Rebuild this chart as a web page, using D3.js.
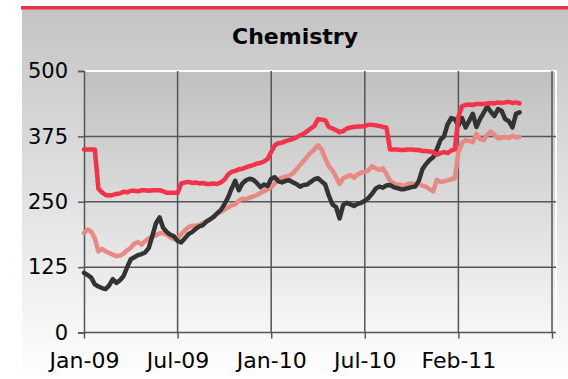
<!DOCTYPE html>
<html>
<head>
<meta charset="utf-8">
<script src="https://cdn.jsdelivr.net/npm/d3@7"></script>
<style>
  html, body { margin: 0; padding: 0; background: #ffffff; }
  svg { display: block; }
  text { font-family: "DejaVu Sans", Verdana, sans-serif; fill: #000; }
</style>
</head>
<body>
<svg id="chart" width="568" height="379"></svg>
<script>
// Weekly index values, one point per week starting with the first week of Jan 2009
const seriesRed = [
  350,350,350,350,275,268,263,262,263,265,266,269,268,271,271,270,272,272,271,272,
  272,272,270,267,267,267,267,285,287,288,286,287,285,286,284,284,285,284,287,292,
  302,307,309,312,313,316,318,320,323,324,327,332,345,358,362,363,366,368,370,373,
  377,380,385,390,395,408,407,406,393,390,387,383,385,390,392,393,394,394,395,397,
  397,396,395,393,392,350,350,350,349,349,350,350,349,349,347,347,346,345,340,343,
  345,343,348,350,412,433,435,436,435,437,437,437,438,439,438,440,439,440,441,439,
  440,438
];
const seriesPink = [
  190,197,193,180,155,160,155,152,149,146,147,151,157,162,170,173,168,175,180,183,
  186,190,190,187,182,178,180,188,195,201,204,204,205,209,213,217,221,227,231,235,
  239,243,245,252,256,255,258,260,263,267,270,274,278,285,293,296,298,300,304,312,
  320,328,336,344,350,358,350,333,318,310,298,284,295,298,301,296,302,306,307,310,
  318,314,311,314,303,290,285,283,282,280,284,285,283,284,281,279,274,270,292,288,
  289,291,293,295,345,362,368,366,364,380,370,368,378,384,378,371,372,374,372,376,
  373,374
];
const seriesDark = [
  114,110,105,92,88,85,83,90,102,95,100,108,125,140,144,148,150,153,162,185,
  209,220,200,192,187,184,175,172,180,188,192,198,203,205,212,216,221,228,234,245,
  258,275,290,272,285,291,294,292,286,278,283,280,294,297,289,287,290,291,287,284,
  279,282,283,288,293,295,289,283,262,245,240,218,244,248,245,242,246,248,252,257,
  265,275,279,277,281,282,278,276,274,274,276,278,279,290,312,322,330,335,350,368,
  375,398,410,408,396,410,392,405,418,393,408,420,432,422,414,427,424,408,404,392,
  418,421
];

const yTicks = [0, 125, 250, 375, 500];
const xTickWeeks = [0, 26, 52, 78, 104, 130];
const xTickLabels = ["Jan-09", "Jul-09", "Jan-10", "Jul-10", "Feb-11", ""];
const chartTitle = "Chemistry";

const svg = d3.select("#chart");
const W = 568, H = 379;

// Panel background with vertical grey-to-white gradient
const defs = svg.append("defs");
const gPanel = defs.append("linearGradient").attr("id", "panelGrad")
  .attr("x1", 0).attr("y1", 0).attr("x2", 0).attr("y2", 1);
gPanel.append("stop").attr("offset", "0%").attr("stop-color", "#c4c4c4");
gPanel.append("stop").attr("offset", "100%").attr("stop-color", "#ffffff");

const gPlot = defs.append("linearGradient").attr("id", "plotGrad")
  .attr("x1", 0).attr("y1", 0).attr("x2", 0).attr("y2", 1);
gPlot.append("stop").attr("offset", "0%").attr("stop-color", "#c0c0c0");
gPlot.append("stop").attr("offset", "100%").attr("stop-color", "#f7f7f7");

svg.append("rect").attr("x", 22).attr("y", 9).attr("width", W - 22).attr("height", H - 9)
  .attr("fill", "url(#panelGrad)");
svg.append("rect").attr("x", 21).attr("y", 6).attr("width", W - 21).attr("height", 3.5)
  .attr("fill", "#e8324b");

svg.append("text").attr("x", 295).attr("y", 44).attr("text-anchor", "middle")
  .style("font-size", "22px").style("font-weight", "bold").text(chartTitle);

const plotLeft = 84, plotLastTick = 552, plotTop = 71, plotBottom = 332.5;
const plotRight = 556;

const x = d3.scaleLinear().domain([0, 130]).range([plotLeft, plotLastTick]);
const y = d3.scaleLinear().domain([0, 500]).range([plotBottom, plotTop]);

// Plot area
svg.append("rect").attr("x", plotLeft).attr("y", plotTop).attr("width", plotRight - plotLeft)
  .attr("height", plotBottom - plotTop).attr("fill", "url(#plotGrad)");
svg.append("path")
  .attr("d", `M${plotLeft},${plotTop}H${plotRight}V${plotBottom}`)
  .attr("fill", "none").attr("stroke", "#ffffff").attr("stroke-width", 2);

// Gridlines
const grid = svg.append("g").attr("stroke", "#555555").attr("stroke-width", 1.5);
yTicks.filter(v => v > 0 && v < 500).forEach(v => {
  grid.append("line").attr("x1", plotLeft).attr("x2", plotRight).attr("y1", y(v)).attr("y2", y(v));
});
xTickWeeks.filter(w => w > 0).forEach(w => {
  grid.append("line").attr("x1", x(w)).attr("x2", x(w)).attr("y1", plotTop).attr("y2", plotBottom);
});

// Axes
const yAxis = d3.axisLeft(y).tickValues(yTicks).tickSize(6).tickPadding(10);
const gy = svg.append("g").attr("transform", `translate(${plotLeft},0)`).call(yAxis);
gy.select(".domain").attr("stroke", "#555555").attr("stroke-width", 1.5);
gy.selectAll(".tick line").attr("stroke", "#555555").attr("stroke-width", 1.5);
gy.selectAll(".tick text").style("font-size", "21px").attr("fill", "#000")
  .attr("font-family", "DejaVu Sans, Verdana, sans-serif");

const xAxis = d3.axisBottom(x).tickValues(xTickWeeks)
  .tickFormat((d, i) => xTickLabels[i]).tickSize(6).tickPadding(14);
const gx = svg.append("g").attr("transform", `translate(0,${plotBottom})`).call(xAxis);
gx.select(".domain").attr("d", `M${plotLeft},0H${plotRight}`)
  .attr("stroke", "#555555").attr("stroke-width", 1.5);
gx.selectAll(".tick line").attr("stroke", "#555555").attr("stroke-width", 1.5);
gx.selectAll(".tick text").style("font-size", "22px").attr("fill", "#000")
  .attr("font-family", "DejaVu Sans, Verdana, sans-serif");

// Series lines
const line = d3.line().x((d, i) => x(i)).y(d => y(d));
const series = [
  { values: seriesPink, color: "#e68a83" },
  { values: seriesDark, color: "#333333" },
  { values: seriesRed, color: "#f2334a" }
];
svg.append("g").selectAll("path").data(series).join("path")
  .attr("d", d => line(d.values))
  .attr("fill", "none")
  .attr("stroke", d => d.color)
  .attr("stroke-width", 4.5)
  .attr("stroke-linejoin", "round")
  .attr("stroke-linecap", "round");
</script>
</body>
</html>
